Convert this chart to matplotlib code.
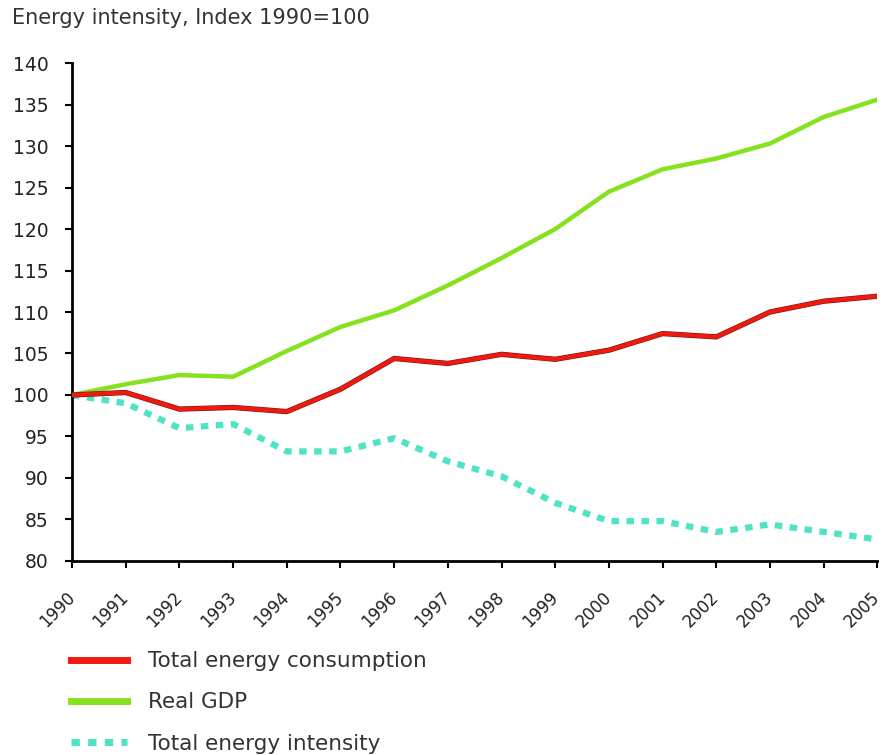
import matplotlib
matplotlib.use("Agg")
import matplotlib.pyplot as plt
from matplotlib.lines import Line2D
import matplotlib.patheffects as pe

years = list(range(1990, 2006))
energy_consumption = [100, 100.3, 98.3, 98.5, 98.0, 100.7, 104.4, 103.8, 104.9, 104.3, 105.4, 107.4, 107.0, 110.0, 111.3, 111.9]
real_gdp = [100, 101.3, 102.4, 102.2, 105.3, 108.2, 110.2, 113.2, 116.5, 120.0, 124.5, 127.2, 128.5, 130.3, 133.5, 135.6]
energy_intensity = [100, 99.0, 96.0, 96.5, 93.2, 93.2, 94.8, 92.0, 90.2, 87.0, 84.8, 84.8, 83.5, 84.4, 83.5, 82.6]
labels = ["Total energy consumption", "Real GDP", "Total energy intensity"]
y_ticks = list(range(80, 141, 5))

red = "#ee1a10"
green = "#86e21e"
cyan = "#4fe3c4"

fig = plt.figure(figsize=(8.84, 7.55), dpi=100)
ax = fig.add_axes([0.0815, 0.257, 0.911, 0.6595])

ax.plot(years, energy_intensity, color=cyan, lw=4.5, linestyle=(0, (1.2, 1.2)), solid_capstyle="butt", zorder=2)
ax.plot(years, real_gdp, color=green, lw=3.2, zorder=3)
ax.plot(years, energy_consumption, color=red, lw=3.0, zorder=4,
        path_effects=[pe.Stroke(linewidth=3.8, foreground="#7a1010"), pe.Normal()])

ax.set_xlim(1990, 2005)
ax.set_ylim(80, 140)
ax.set_yticks(y_ticks)
ax.set_xticks(years)
ax.set_xticklabels([str(y) for y in years], rotation=45, ha="right", va="center",
                   rotation_mode="anchor", fontsize=12, color="#222222")
ax.tick_params(axis="y", labelsize=13.5, length=5, width=1.5, direction="out", pad=12, labelcolor="#222222")
ax.tick_params(axis="x", length=5, width=1.5, direction="out", pad=19)
for s in ["top", "right"]:
    ax.spines[s].set_visible(False)
for s in ["left", "bottom"]:
    ax.spines[s].set_linewidth(2)
    ax.spines[s].set_color("black")

fig.text(0.014, 0.976, "Energy intensity, Index 1990=100", fontsize=15, va="center", ha="left", color="#333333")

handles = [
    Line2D([], [], color=red, lw=5),
    Line2D([], [], color=green, lw=5),
    Line2D([], [], color=cyan, lw=5, linestyle=(0, (1.2, 1.2))),
]
leg = fig.legend(handles, labels, loc="upper left", bbox_to_anchor=(0.058, 0.163), frameon=False,
                 fontsize=15.5, handlelength=2.6, labelspacing=0.98, handletextpad=1.0)
for t in leg.get_texts():
    t.set_color("#333333")

fig.savefig("out.png", dpi=100)
